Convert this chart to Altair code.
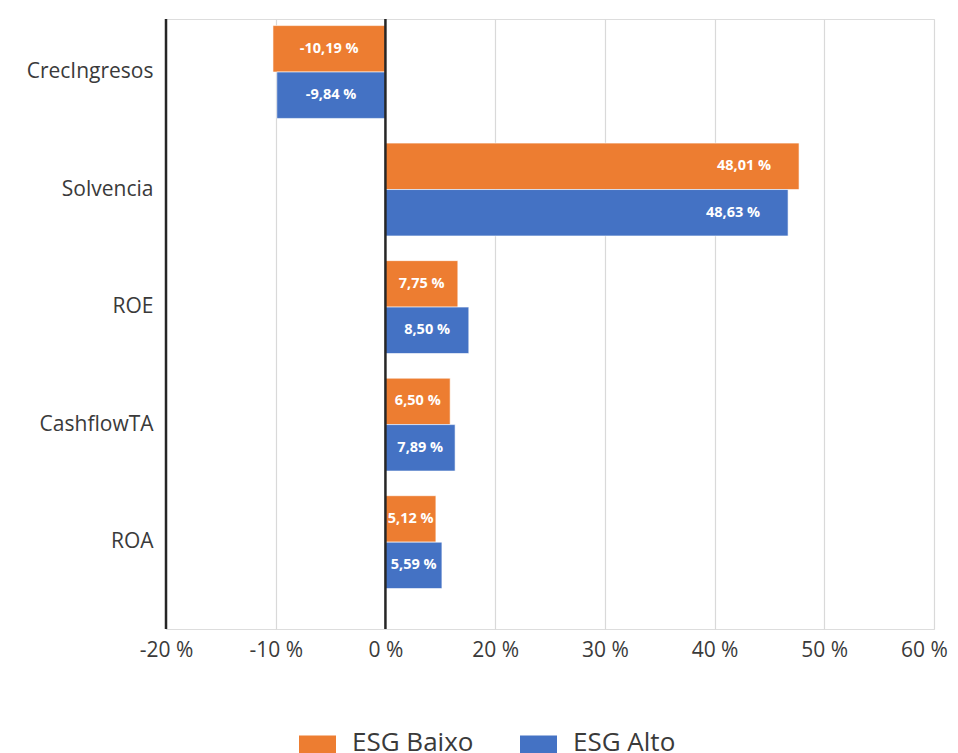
import altair as alt
import pandas as pd

categories = ["CrecIngresos", "Solvencia", "ROE", "CashflowTA", "ROA"]
series = ["ESG Baixo", "ESG Alto"]
colors = ["#ED7D31", "#4472C4"]

# bar lengths as drawn in the picture (axis units)
baixo_vals = [-10.25, 37.7, 6.6, 5.9, 4.6]
alto_vals = [-9.9, 36.7, 7.6, 6.35, 5.15]
# data labels printed on the bars
baixo_lbls = ["-10,19 %", "48,01 %", "7,75 %", "6,50 %", "5,12 %"]
alto_lbls = ["-9,84 %", "48,63 %", "8,50 %", "7,89 %", "5,59 %"]

tick_values = [-20, -10, 0, 10, 20, 30, 40, 50]
tick_labels = ["-20 %", "-10 %", "0 %", "20 %", "30 %", "40 %", "50 %", "60 %"]
dark_lines = [-20, 0]

rows = []
for c, v, l in zip(categories, baixo_vals, baixo_lbls):
    rows.append({"category": c, "series": series[0], "value": v, "label": l})
for c, v, l in zip(categories, alto_vals, alto_lbls):
    rows.append({"category": c, "series": series[1], "value": v, "label": l})
df = pd.DataFrame(rows)

label_expr = "[" + ",".join("'%s'" % t for t in tick_labels) + "][indexof([" + ",".join(str(t) for t in tick_values) + "], datum.value)]"

FONT = "Open Sans"
TXT = "#3a3a3a"

xscale = alt.Scale(domain=[-20, 50], nice=False, zero=False)
yscale = alt.Scale(paddingInner=0.21, paddingOuter=0.2, align=0.14)

base = alt.Chart(df).encode(
    y=alt.Y("category:N", sort=categories, scale=yscale, title=None,
            axis=alt.Axis(domain=False, ticks=False, labelPadding=13,
                          labelFontSize=21, labelColor=TXT, labelFont=FONT,
                          minExtent=158, maxExtent=158)),
    yOffset=alt.YOffset("series:N", sort=series,
                        scale=alt.Scale(paddingInner=0, paddingOuter=0)),
)

last_tick = tick_values[-1]
bars = base.mark_bar(stroke="white", strokeWidth=0.6).encode(
    x=alt.X("value:Q", scale=xscale, title=None,
            axis=alt.Axis(values=tick_values, labelExpr=label_expr,
                          domain=False, ticks=False, grid=True,
                          gridColor="#D9D9D9", gridWidth=1.2,
                          labelFlush=False, labelOverlap=False,
                          labelOffset={"condition": {"test": "datum.value == %d" % last_tick, "value": -10},
                                       "value": 0},
                          labelPadding=10, labelFontSize=21,
                          labelColor=TXT, labelFont=FONT)),
    color=alt.Color("series:N", scale=alt.Scale(domain=series, range=colors),
                    legend=alt.Legend(
                        title=None, orient="none", direction="horizontal",
                        legendX=133, legendY=713,
                        symbolType="M-1,-0.84H1V0.84H-1Z", symbolSize=1369,
                        symbolStrokeWidth=0, labelFontSize=26, labelColor=TXT,
                        labelBaseline="alphabetic",
                        labelFont=FONT, labelOffset=16, columnPadding=46)),
)

rules = alt.Chart(pd.DataFrame({"x": dark_lines})).mark_rule(
    color="#262626", strokeWidth=2.5
).encode(x=alt.X("x:Q", scale=xscale))

small_txt = base.transform_filter("datum.value < 20").transform_calculate(
    pos="datum.value / 2"
).mark_text(color="white", fontSize=14.5, fontWeight="bold", font=FONT,
            align="center", baseline="middle").encode(
    x=alt.X("pos:Q", scale=xscale), text="label:N")

big_txt = base.transform_filter("datum.value >= 20").mark_text(
    color="white", fontSize=14.5, fontWeight="bold", font=FONT,
    align="right", baseline="middle", dx=-28).encode(
    x=alt.X("value:Q", scale=xscale), text="label:N")

chart = alt.layer(bars, rules, small_txt, big_txt).properties(
    width=768, height=610,
    padding={"top": 9, "left": 0, "right": 0, "bottom": 0},
).configure_view(stroke=None).configure(background="white")

chart.save("out.html", embed_options={"renderer": "svg", "actions": False})
